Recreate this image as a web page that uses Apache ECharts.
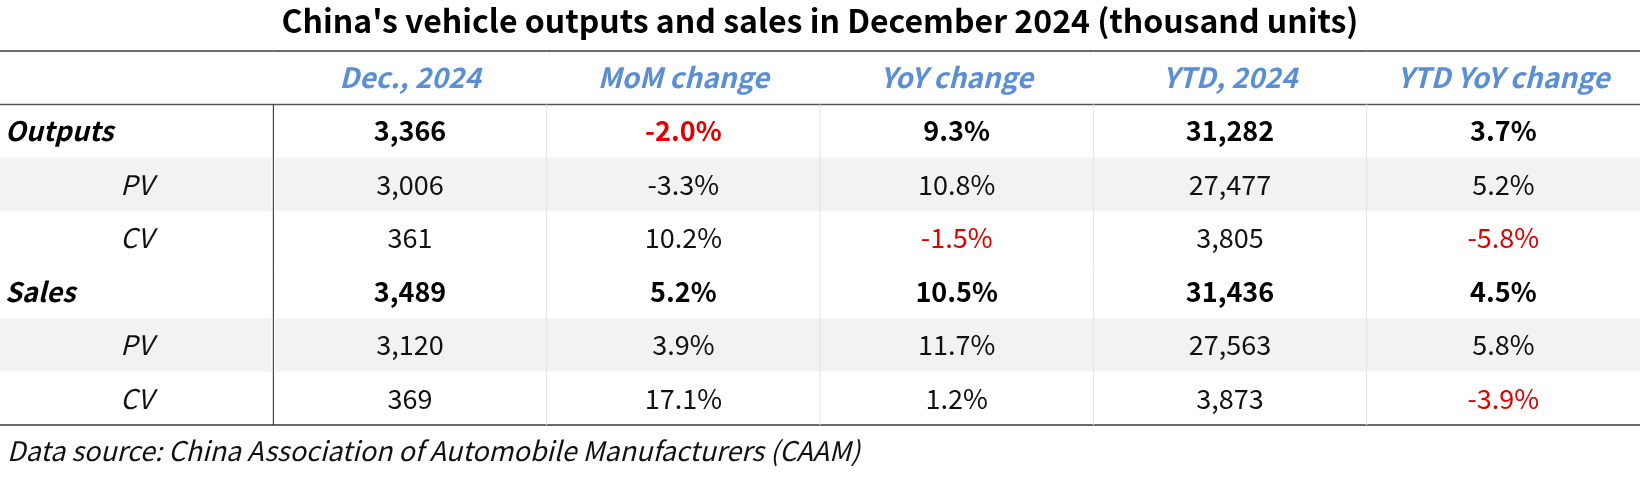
<!DOCTYPE html>
<html>
<head>
<meta charset="utf-8">
<script src="https://cdn.jsdelivr.net/npm/echarts@6/dist/echarts.min.js"></script>
<style>
  html, body { margin: 0; padding: 0; background: #fff; }
  #chart { width: 1640px; height: 479px; }
</style>
</head>
<body>
<div id="chart"></div>
<script>
// table data
const headers = ['Dec., 2024', 'MoM change', 'YoY change', 'YTD, 2024', 'YTD YoY change']
const rowLabels = ['Outputs', 'PV', 'CV', 'Sales', 'PV', 'CV']
const groupRows = [0, 3]
const dec2024 = [3366, 3006, 361, 3489, 3120, 369]
const momChange = [-2.0, -3.3, 10.2, 5.2, 3.9, 17.1]
const yoyChange = [9.3, 10.8, -1.5, 10.5, 11.7, 1.2]
const ytd2024 = [31282, 27477, 3805, 31436, 27563, 3873]
const ytdYoyChange = [3.7, 5.2, -5.8, 4.5, 5.8, -3.9]
// cells shown in red: [row, column]
const redCells = [[0, 2], [2, 3], [2, 5], [5, 5]]

const FONT = '"Noto Sans CJK SC", "Noto Sans", sans-serif'
const BLUE = '#5b8fd4'
const RED = '#e00000'

const fmtNum = v => v.toLocaleString('en-US')
const fmtPct = v => v.toFixed(1) + '%'

const columnsData = [
  rowLabels,
  dec2024.map(fmtNum),
  momChange.map(fmtPct),
  yoyChange.map(fmtPct),
  ytd2024.map(fmtNum),
  ytdYoyChange.map(fmtPct)
]

// build cells: row 0 is the header
const cells = []
for (let c = 0; c < 6; c++) {
  cells.push({ value: [c, 0], text: c === 0 ? '' : headers[c - 1] })
}
for (let r = 0; r < rowLabels.length; r++) {
  for (let c = 0; c < 6; c++) {
    cells.push({ value: [c, r + 1], text: columnsData[c][r] })
  }
}

const isRed = (r, c) => redCells.some(p => p[0] === r && p[1] === c)

const renderCell = (params, api) => {
  const col = api.value(0)
  const row = api.value(1)
  const cell = cells[params.dataIndex]
  const pt = api.coord([col, row])
  const sz = api.size([1, 1])
  const x0 = pt[0] - sz[0] / 2
  const y0 = pt[1] - sz[1] / 2
  const x1 = x0 + sz[0]
  const y1 = y0 + sz[1]
  const children = []
  const dataRow = row - 1
  const isGroup = groupRows.indexOf(dataRow) >= 0

  // banded background for PV rows
  if (row > 0 && dataRow % 3 === 1) {
    children.push({
      type: 'rect',
      z2: 0,
      shape: { x: x0 + (col === 1 ? 2 : 0), y: y0, width: sz[0] - (col === 0 ? 2 : 0) - (col === 1 ? 2 : 0), height: sz[1] },
      style: { fill: '#f2f2f2' }
    })
  }

  // lines
  if (row === 0) {
    children.push({ type: 'line', z2: 10, shape: { x1: x0, y1: y0, x2: x1, y2: y0 }, style: { stroke: '#6b6b6b', lineWidth: 2 } })
    children.push({ type: 'line', z2: 10, shape: { x1: x0, y1: y1, x2: x1, y2: y1 }, style: { stroke: '#555', lineWidth: 1.5 } })
  }
  if (row === rowLabels.length) {
    children.push({ type: 'line', z2: 10, shape: { x1: x0, y1: y1, x2: x1, y2: y1 }, style: { stroke: '#6b6b6b', lineWidth: 2 } })
  }
  if (row > 0 && col > 0) {
    children.push({
      type: 'line',
      z2: 10,
      shape: { x1: x0, y1: y0, x2: x0, y2: y1 },
      style: { stroke: col === 1 ? '#222' : '#e2e2e2', lineWidth: 1 }
    })
  }

  // text
  let style = {
    text: cell.text,
    x: pt[0],
    y: pt[1],
    align: 'center',
    verticalAlign: 'middle',
    fontFamily: FONT,
    fontSize: 27,
    fontWeight: 'normal',
    fontStyle: 'normal',
    fill: '#111'
  }
  if (row === 0) {
    style.fontWeight = 'bold'
    style.fontStyle = 'italic'
    style.fill = BLUE
    style.fontSize = 28
  } else if (col === 0) {
    style.fontStyle = 'italic'
    if (isGroup) {
      style.fontWeight = 'bold'
      style.align = 'left'
      style.x = x0 + 5
      style.fill = '#000'
    }
  } else {
    if (isGroup) {
      style.fontWeight = 'bold'
      style.fill = '#000'
    }
    if (isRed(dataRow, col)) style.fill = RED
  }
  children.push({ type: 'text', z2: 20, style: style })

  return { type: 'group', children: children }
}

const chart = echarts.init(document.getElementById('chart'), null, { renderer: 'canvas' })

const option = {
  backgroundColor: '#fff',
  animation: false,
  title: [
    {
      text: "China's vehicle outputs and sales in December 2024 (thousand units)",
      left: 'center',
      top: 0,
      textStyle: { fontFamily: FONT, fontSize: 32, fontWeight: 'bold', color: '#000' }
    },
    {
      text: 'Data source: China Association of Automobile Manufacturers (CAAM)',
      left: 2,
      top: 432,
      textStyle: { fontFamily: FONT, fontSize: 27, fontWeight: 'normal', fontStyle: 'italic', color: '#111' }
    }
  ],
  grid: {
    left: 0,
    right: 0,
    top: 51,
    bottom: 54
  },
  xAxis: {
    type: 'category',
    data: [0, 1, 2, 3, 4, 5],
    show: false
  },
  yAxis: {
    type: 'category',
    data: [0, 1, 2, 3, 4, 5, 6],
    inverse: true,
    show: false
  },
  series: [
    {
      type: 'custom',
      renderItem: renderCell,
      data: cells,
      silent: true
    }
  ]
}

chart.setOption(option)
</script>
</body>
</html>
